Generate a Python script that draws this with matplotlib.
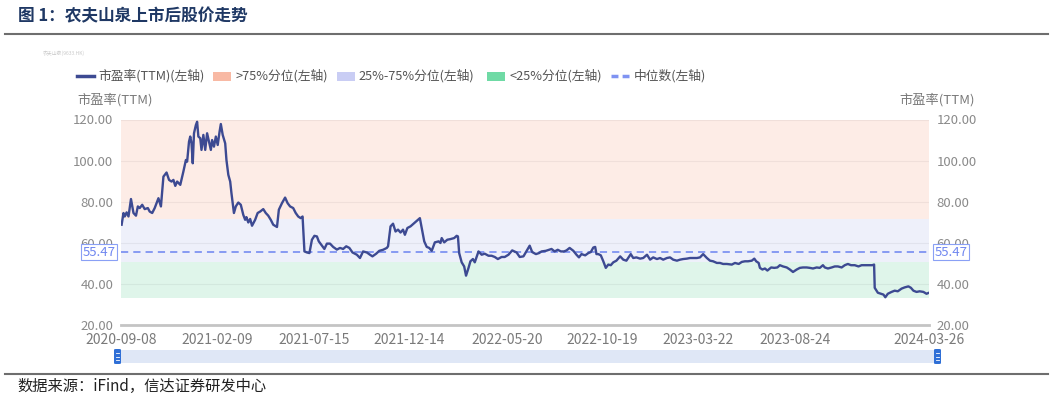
import numpy as np
import matplotlib.pyplot as plt
from matplotlib.patches import Rectangle, FancyBboxPatch
from matplotlib.lines import Line2D

plt.rcParams['font.family'] = ['Noto Sans CJK SC', 'DejaVu Sans']

# 市盈率(TTM): days since listing start date
start = np.datetime64('2020-09-08')
days = [1, 4, 6, 9, 12, 16, 20, 24, 27, 30, 34, 38, 43, 46, 50, 54, 60, 64, 68, 73,
        77, 81, 84, 87, 90, 95, 100, 104, 106, 109, 111, 113, 115, 117, 120, 122, 124, 127, 129, 132,
        135, 138, 141, 144, 146, 149, 152, 155, 158, 160, 163, 167, 169, 172, 175, 177, 181, 184, 188, 192,
        196, 199, 201, 204, 207, 210, 215, 219, 223, 228, 232, 236, 240, 244, 250, 253, 258, 263, 267, 271,
        276, 280, 284, 288, 291, 294, 298, 302, 306, 310, 314, 317, 322, 326, 330, 335, 340, 346, 351, 356,
        361, 366, 371, 378, 383, 388, 394, 399, 403, 409, 414, 420, 426, 428, 432, 436, 440, 444, 448, 452,
        455, 459, 464, 470, 475, 479, 482, 486, 490, 494, 498, 503, 509, 512, 514, 518, 523, 528, 534, 538,
        540, 542, 546, 550, 553, 557, 560, 564, 567, 573, 578, 583, 589, 594, 599, 604, 610, 615, 621, 627,
        634, 639, 645, 650, 655, 659, 665, 670, 674, 681, 686, 690, 695, 700, 705, 710, 714, 719, 725, 730,
        734, 738, 744, 749, 753, 757, 760, 762, 765, 769, 773, 777, 781, 785, 789, 794, 800, 805, 810, 817,
        821, 826, 832, 837, 843, 848, 853, 859, 864, 869, 875, 880, 885, 891, 896, 901, 907, 912, 917, 923,
        928, 933, 939, 944, 949, 955, 960, 965, 971, 979, 984, 990, 995, 1000, 1005, 1011, 1015, 1018, 1022, 1024,
        1028, 1032, 1036, 1042, 1047, 1052, 1056, 1061, 1067, 1072, 1077, 1083, 1088, 1093, 1099, 1104, 1109, 1115, 1120, 1125,
        1128, 1133, 1139, 1144, 1149, 1155, 1160, 1165, 1170, 1176, 1182, 1187, 1192, 1199, 1204, 1207, 1208, 1213, 1218, 1222,
        1225, 1229, 1235, 1240, 1245, 1251, 1256, 1262, 1266, 1270, 1275, 1280, 1286, 1291, 1295]
pe = [68.8, 74.5, 72.8, 74.8, 72.8, 81.3, 74.5, 73.2, 77.7, 76.9, 78.5, 76.4, 76.9, 75.2, 74.5, 76.9, 81.7, 77.7, 92.2, 94.2,
      90.6, 89.8, 90.6, 87.7, 89.8, 88.2, 94.7, 100.3, 99.5, 109.2, 111.7, 108.4, 98.7, 113.3, 117.3, 118.9, 111.7, 110.9, 105.2, 112.5,
      105.2, 113.3, 109.2, 105.2, 110.0, 106.8, 111.7, 107.6, 114.1, 117.8, 112.5, 108.4, 100.3, 93.1, 89.8, 84.2, 74.5, 77.7, 79.6, 78.5,
      73.6, 71.2, 72.5, 69.9, 71.6, 68.3, 71.2, 74.5, 75.2, 76.4, 74.5, 73.2, 71.2, 68.8, 67.7, 76.1, 79.3, 82.0, 79.3, 77.7,
      76.9, 74.5, 72.8, 72.0, 72.8, 55.8, 55.3, 55.0, 61.5, 63.4, 63.1, 60.7, 58.6, 57.0, 59.6, 59.6, 58.0, 56.7, 57.5, 57.0,
      58.3, 57.5, 55.3, 54.2, 52.6, 55.8, 55.3, 54.2, 53.4, 54.7, 56.1, 56.6, 57.5, 58.3, 68.0, 69.3, 65.5, 66.4, 65.0, 66.4,
      63.9, 67.2, 68.0, 69.6, 70.9, 72.0, 67.2, 60.7, 58.0, 57.5, 56.1, 60.2, 60.7, 59.9, 62.3, 60.2, 61.5, 61.8, 62.3, 63.4,
      63.1, 55.0, 50.5, 48.5, 44.0, 47.8, 51.0, 52.1, 50.5, 55.8, 54.2, 54.7, 53.7, 53.7, 53.1, 52.1, 53.1, 53.1, 54.2, 56.3,
      55.3, 53.1, 53.4, 56.0, 58.6, 55.5, 54.5, 55.0, 55.8, 56.1, 56.6, 57.0, 55.8, 56.6, 55.8, 55.8, 56.3, 57.5, 56.1, 54.2,
      52.9, 54.5, 53.9, 55.0, 55.5, 57.7, 58.0, 54.5, 54.5, 53.9, 51.0, 47.8, 49.4, 49.1, 50.5, 51.3, 53.4, 51.8, 51.3, 54.5,
      52.6, 52.9, 52.3, 52.6, 54.2, 51.8, 52.9, 52.1, 52.6, 51.8, 52.6, 52.9, 51.8, 51.3, 51.8, 52.1, 52.3, 52.6, 52.6, 52.6,
      52.9, 54.5, 52.6, 51.3, 51.0, 50.2, 50.2, 49.7, 49.7, 49.4, 50.2, 49.7, 50.7, 51.0, 51.0, 51.3, 52.3, 51.0, 50.2, 47.8,
      47.0, 47.5, 46.5, 48.0, 47.8, 48.0, 49.1, 48.5, 48.0, 47.0, 45.8, 47.0, 47.8, 48.0, 48.0, 47.8, 47.5, 48.0, 47.8, 49.1,
      48.0, 47.5, 48.0, 48.5, 48.5, 48.0, 49.1, 49.7, 49.1, 49.1, 48.5, 49.1, 49.1, 49.1, 49.1, 49.4, 38.1, 35.7, 35.2, 34.8,
      33.5, 35.2, 36.1, 36.7, 36.4, 37.7, 38.3, 38.8, 38.1, 36.7, 36.1, 36.4, 36.1, 35.2, 35.7]

median = 55.47
band_low, q25, q75, band_high = 33.3, 50.6, 71.4, 119.6
tick_dates = ['2020-09-08', '2021-02-09', '2021-07-15', '2021-12-14', '2022-05-20',
              '2022-10-19', '2023-03-22', '2023-08-24', '2024-03-26']
y_ticks = [20, 40, 60, 80, 100, 120]
legend_labels = ['市盈率(TTM)(左轴)', '>75%分位(左轴)', '25%-75%分位(左轴)', '<25%分位(左轴)', '中位数(左轴)']

W, H = 1053, 399
fig = plt.figure(figsize=(W / 100, H / 100), dpi=100)


def fx(px):
    return px / W


def fy(py):
    return 1 - py / H


ax = fig.add_axes([fx(121), fy(325), fx(929) - fx(121), fy(119.5) - fy(325)])
dates = start + np.array(days).astype('timedelta64[D]')

ax.axhspan(q75, band_high, color='#fdece6', lw=0, zorder=0)
ax.axhspan(q25, q75, color='#eef0fa', lw=0, zorder=0)
ax.axhspan(band_low, q25, color='#dff5ea', lw=0, zorder=0)
for v in y_ticks[1:]:
    ax.axhline(v, color='#000000', alpha=0.05, lw=0.8, zorder=1)
ax.axhline(median, color='#7f93f2', lw=1.3, ls=(0, (4, 2.8)), zorder=2)
ax.plot(dates, pe, color='#3d4a92', lw=1.7, zorder=3)

ax.set_xlim(np.datetime64(tick_dates[0]), np.datetime64(tick_dates[-1]))
ax.set_ylim(20, 120)
ax.set_xticks([np.datetime64(d) for d in tick_dates])
ax.set_xticklabels(tick_dates, fontsize=10, color='#7a7a7a')
ax.set_yticks(y_ticks)
ax.set_yticklabels([f'{v:.2f}' for v in y_ticks], fontsize=9.5, color='#8a8a8a')
ax.tick_params(axis='y', length=0, pad=5.5, labelleft=True, labelright=True)
ax.tick_params(axis='x', length=0, pad=6)
for s in ['top', 'left', 'right']:
    ax.spines[s].set_visible(False)
ax.spines['bottom'].set_color('#c4c4c4')
ax.spines['bottom'].set_linewidth(2)
ax.set_facecolor('none')

# median labels on both sides (they sit over the 60.00 labels as in the source)
for xc in (99, 951):
    fig.text(fx(xc), fy(252), f'{median:.2f}', fontsize=9.5, color='#6f86f0', ha='center', va='center',
             bbox=dict(boxstyle='square,pad=0.12', fc='white', ec='#8aa0f5', lw=0.8))

# axis titles
fig.text(fx(77), fy(100), '市盈率(TTM)', fontsize=9.5, color='#7a7a7a', va='center')
fig.text(fx(975), fy(100), '市盈率(TTM)', fontsize=9.5, color='#7a7a7a', va='center', ha='right')

# legend row
ly = fy(75.5)
fig.add_artist(Line2D([fx(76.5), fx(93.5)], [ly, ly], color='#3d4a92', lw=2.5))
patch_cols = ['#f8b9a4', '#c9cdf4', '#6fdaa5']
for x0, c in zip((213, 337, 487), patch_cols):
    fig.add_artist(Rectangle((fx(x0), fy(80.5)), fx(18), 9 / H, color=c, lw=0))
fig.add_artist(Line2D([fx(611), fx(629)], [ly, ly], color='#7f93f2', lw=2.5, ls=(0, (2, 1.2))))
for x0, lab in zip((98, 235, 358, 509, 634), legend_labels):
    fig.text(fx(x0), ly, lab, fontsize=9.2, color='#555555', va='center')

# slider under the chart
fig.add_artist(Rectangle((fx(117), fy(363)), fx(938) - fx(117), 13 / H, color='#dfe7f6', lw=0))
for xc in (117.5, 937.5):
    fig.add_artist(FancyBboxPatch((fx(xc - 3.5), fy(364)), 7 / W, 15 / H,
                                  boxstyle='round,pad=0,rounding_size=0.002', fc='#2f6fd6', ec='none'))
    for yy in (353, 356.5, 360):
        fig.add_artist(Line2D([fx(xc - 1.5), fx(xc + 1.5)], [fy(yy), fy(yy)], color='white', lw=0.6))

# title, rules and source
fig.text(fx(18), fy(16), '图 1：农夫山泉上市后股价走势', fontsize=12, weight='bold', color='#1f3864', va='center')
fig.add_artist(Line2D([fx(5), fx(1048)], [fy(34), fy(34)], color='#6e6e6e', lw=1.5))
fig.text(fx(43), fy(53), '农夫山泉(9633.HK)', fontsize=3.5, color='#c8c8c8', va='center')
fig.add_artist(Line2D([fx(5), fx(1048)], [fy(374), fy(374)], color='#6e6e6e', lw=1.5))
fig.text(fx(17), fy(386), '数据来源：iFind，信达证券研发中心', fontsize=11, style='italic', color='#222222', va='center')

fig.savefig('out.png', dpi=100)
